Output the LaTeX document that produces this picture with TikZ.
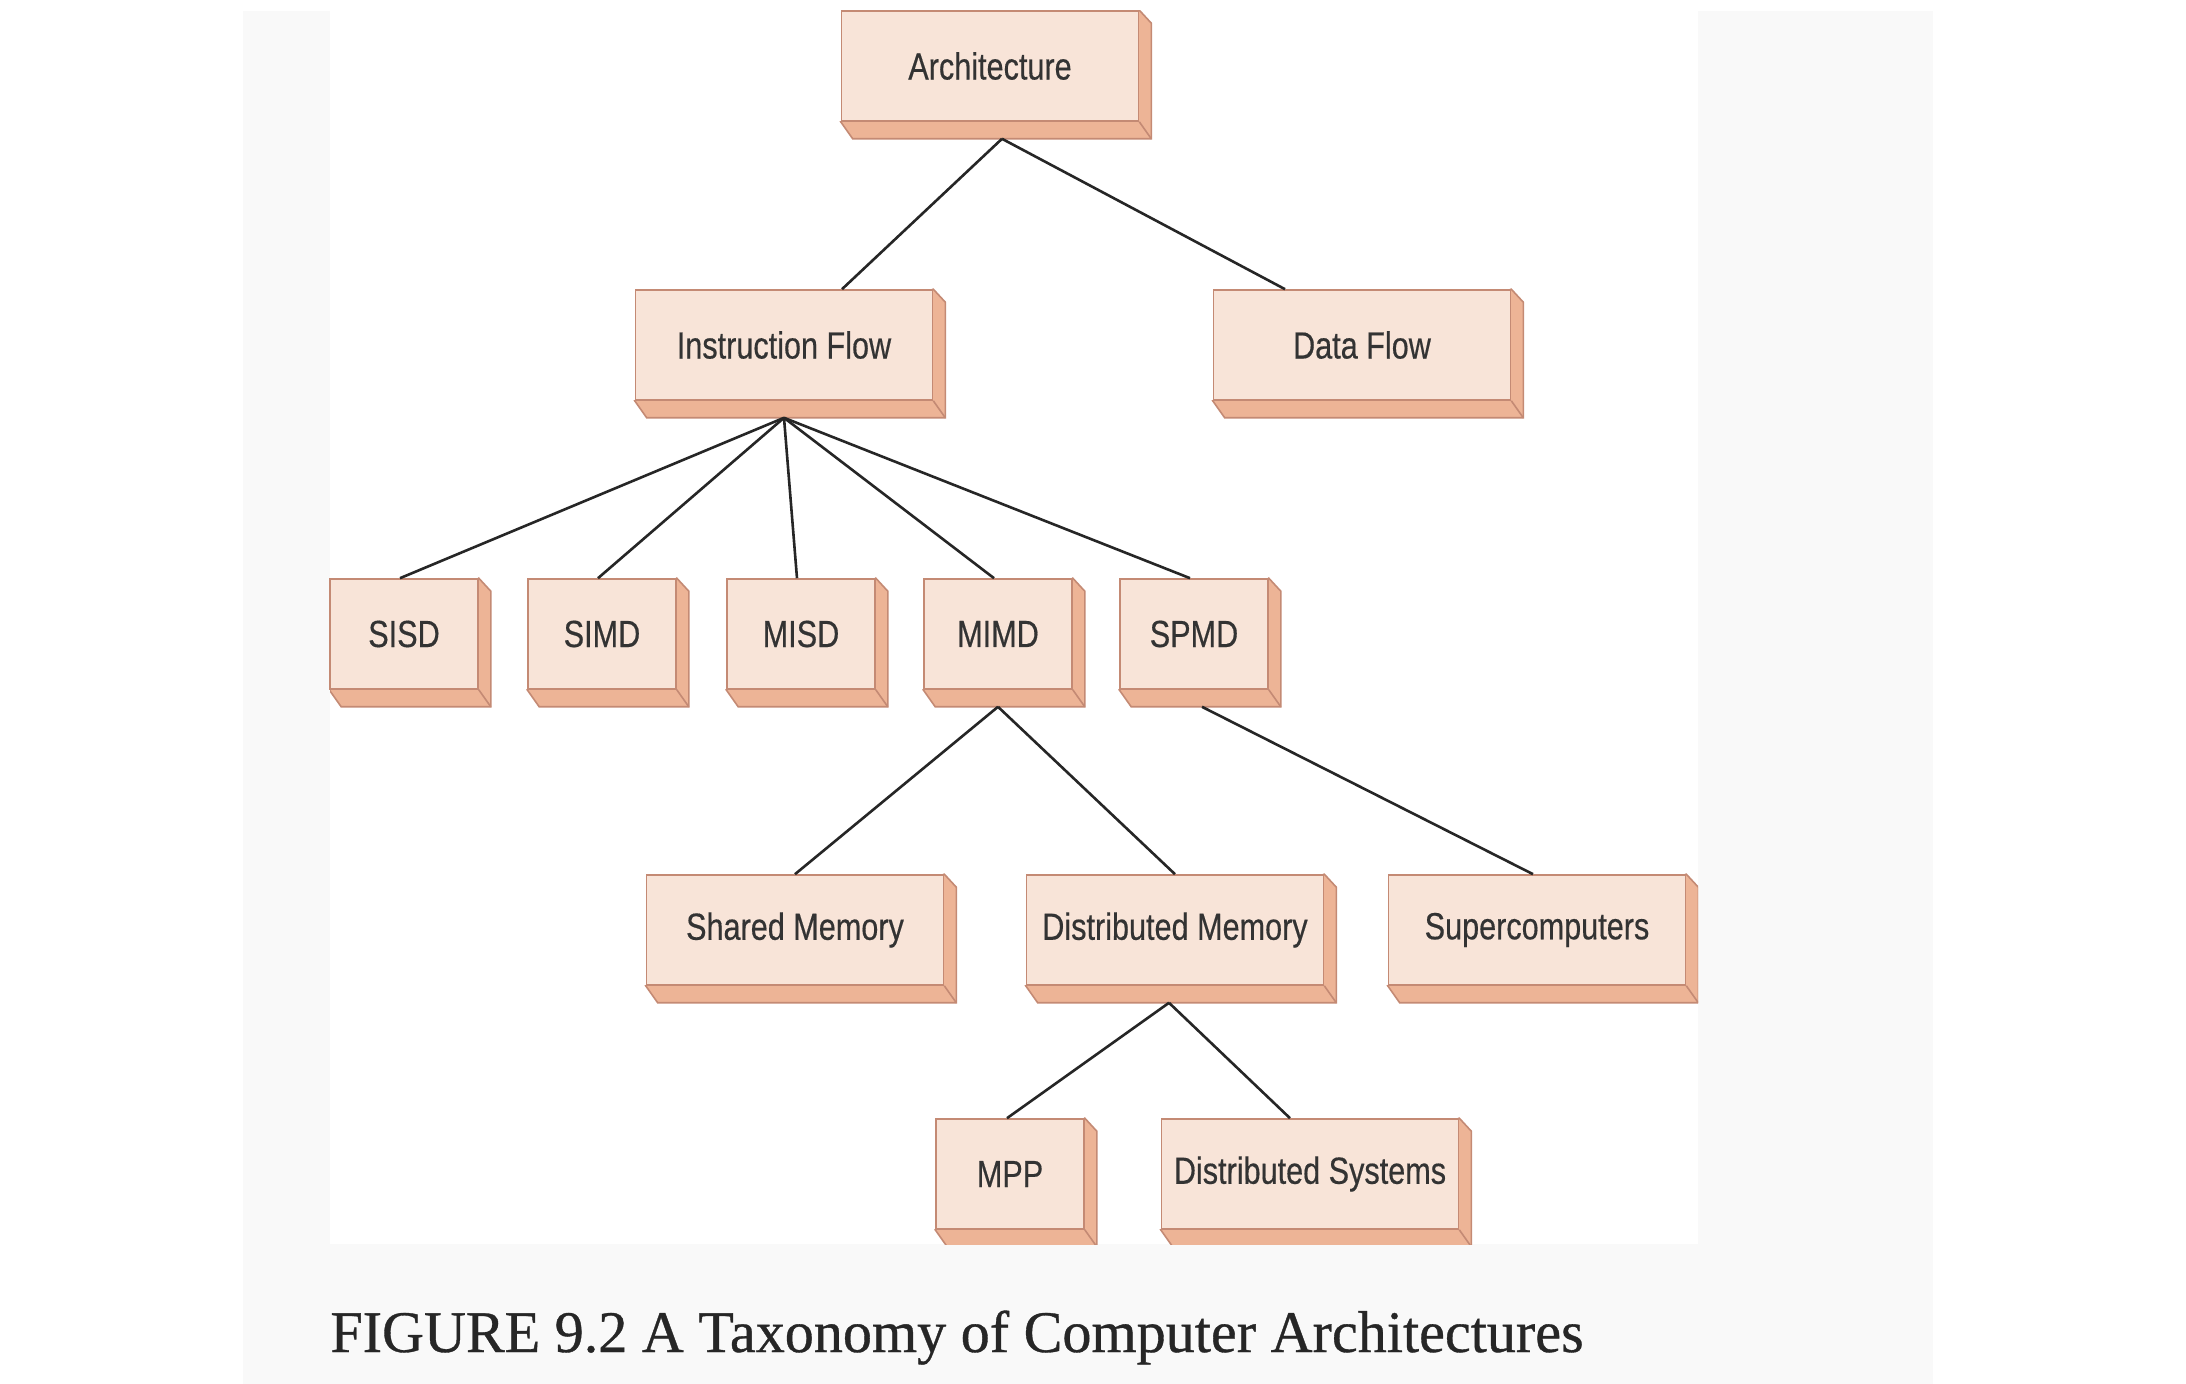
\documentclass[tikz,border=0pt]{standalone}
\usepackage{fontspec}
\newfontfamily\boxfont[FakeStretch=0.81,FakeBold=0.4]{Liberation Sans}
\newfontfamily\capfont[FakeStretch=0.985,FakeBold=0.6]{Liberation Serif}
\usetikzlibrary{backgrounds,calc}
\definecolor{facepeach}{RGB}{248,228,216}
\definecolor{slabpeach}{RGB}{237,180,150}
\definecolor{boxedge}{RGB}{196,138,116}
\definecolor{pagegray}{RGB}{249,249,249}

\begin{document}
\begin{tikzpicture}[
    x=0.5pt, y=-0.5pt,
    box/.style={
        rectangle, draw=boxedge, fill=facepeach,
        line width=0.8pt,
        inner sep=0pt,
        minimum width=148.5pt, minimum height=55pt,
        align=center,
        font=\boxfont\fontsize{18.9}{22}\selectfont,
        text=black!80
    },
    narrow/.style={box, minimum width=74pt},
    link/.style={draw=black!85, line width=1.3pt}
]
\useasboundingbox (0,0) rectangle (2186,1384);

\node[box] (arch) at (990,66) {Architecture};
\node[box] (iflow) at (784,345) {Instruction Flow};
\node[box] (dflow) at (1362,345) {Data Flow};
\node[narrow] (sisd) at (404,634) {SISD};
\node[narrow] (simd) at (602,634) {SIMD};
\node[narrow] (misd) at (801,634) {MISD};
\node[narrow] (mimd) at (998,634) {MIMD};
\node[narrow] (spmd) at (1194,634) {SPMD};
\node[box] (shmem) at (795,930) {Shared Memory};
\node[box] (dmem) at (1175,930) {Distributed Memory};
\node[box] (super) at (1537,930) {Supercomputers};
\node[narrow] (mpp) at (1010,1174) {MPP};
\node[box] (dsys) at (1310,1174) {Distributed Systems};

\node[anchor=base west, inner sep=0pt, text=black!85,
    font=\capfont\fontsize{29.5}{32}\selectfont] (caption) at (330,1352)
    {FIGURE 9.2 A Taxonomy of Computer Architectures};

\begin{scope}[on background layer]
    \fill[white] (0,0) rectangle (2186,1384);
    \fill[pagegray] (243,11) rectangle (1933,1384);
    \fill[white] (330,11) rectangle (1698,1244);
    \clip (330,11) rectangle (1698,1244);
    \foreach \n in {arch,iflow,dflow,sisd,simd,misd,mimd,spmd,shmem,dmem,super,mpp,dsys}{
        \filldraw[fill=slabpeach, draw=boxedge, line width=0.8pt]
            (\n.north east) -- ++(12,13) -- ($(\n.south east)+(12,17)$)
            -- ($(\n.south west)+(12,17)$) -- (\n.south west) -- cycle;
        \draw[boxedge, line width=0.8pt] (\n.south east) -- ++(12,17);
    }
\end{scope}

\draw[link] ($(arch.south)+(12,17)$) -- ($(iflow.north)+(58,0)$);
\draw[link] ($(arch.south)+(12,17)$) -- ($(dflow.north)+(-77,0)$);
\foreach \k in {sisd,simd,misd,mimd,spmd}
    \draw[link] ($(iflow.south)+(0,17)$) -- ($(\k.north)+(-4,0)$);
\draw[link] ($(mimd.south)+(0,17)$) -- (shmem.north);
\draw[link] ($(mimd.south)+(0,17)$) -- (dmem.north);
\draw[link] ($(spmd.south)+(8,17)$) -- ($(super.north)+(-4,0)$);
\draw[link] ($(dmem.south)+(-6,17)$) -- ($(mpp.north)+(-3,0)$);
\draw[link] ($(dmem.south)+(-6,17)$) -- ($(dsys.north)+(-20,0)$);
\end{tikzpicture}
\end{document}
